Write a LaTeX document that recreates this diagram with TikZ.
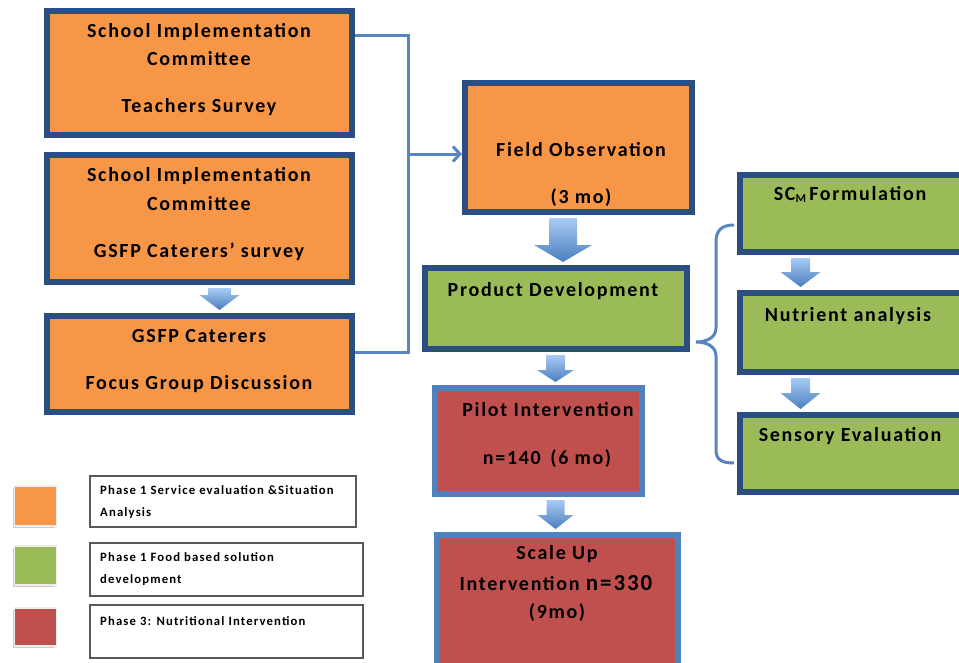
\documentclass[tikz,border=0pt]{standalone}
\usepackage{fontspec}
\setmainfont{Carlito}[LetterSpace=8.5]
\newfontfamily\legendfont{Carlito}[LetterSpace=9]
\usetikzlibrary{arrows.meta,shadows,calc}

\definecolor{phaseorange}{HTML}{F79646}
\definecolor{phasegreen}{HTML}{9BBB59}
\definecolor{phasered}{HTML}{C0504D}
\definecolor{darkframe}{HTML}{2A4E80}
\definecolor{lightframe}{HTML}{4F81BD}
\definecolor{linkblue}{HTML}{5685C1}
\definecolor{arrowtop}{HTML}{A9CBF4}
\definecolor{arrowbot}{HTML}{4A7EBE}
\definecolor{shadowtone}{HTML}{C9A48C}

% block arrow between two stacked boxes:
% #1 x position, #2 upper node, #3 lower node, #4 shaft half width,
% #5 head half width, #6 head length
\newcommand\flowarrow[6]{%
  \path[flowshade] let \p1=(#1,0), \p2=([yshift=-3pt]#2.south), \p3=([yshift=3pt]#3.north) in
    (\x1-#4,\y2) -- (\x1+#4,\y2) -- (\x1+#4,\y3+#6) -- (\x1+#5,\y3+#6)
    -- (\x1,\y3) -- (\x1-#5,\y3+#6) -- (\x1-#4,\y3+#6) -- cycle;}

\begin{document}
\begin{tikzpicture}[x=1pt,y=-1pt,
  stage/.style={draw=darkframe, line width=6pt, inner sep=0pt,
    drop shadow={shadow xshift=3pt, shadow yshift=-3pt, fill=shadowtone, opacity=0.45}},
  obox/.style={stage, fill=phaseorange},
  gbox/.style={stage, fill=phasegreen},
  rbox/.style={stage, draw=lightframe, fill=phasered},
  label/.style={anchor=mid, inner sep=0pt, yshift=-4.5pt, font=\fontsize{20}{22}\selectfont\bfseries},
  conn/.style={draw=linkblue, line width=3pt},
  flowshade/.style={top color=arrowtop, bottom color=arrowbot},
  swatch/.style={inner sep=0pt, draw=black!7, line width=1.5pt,
    drop shadow={shadow xshift=-2pt, shadow yshift=-2pt, fill=shadowtone, opacity=0.6}},
  keybox/.style={draw=black!65, line width=1.2pt, fill=white, inner sep=0pt},
  keytext/.style={anchor=mid west, inner sep=0pt, yshift=-2pt, font=\legendfont\fontsize{12.7}{14}\selectfont\bfseries}
]
\useasboundingbox (0,0) rectangle (959,662);

% connector bus on the left
\coordinate (bustop) at (408,35);
\coordinate (busjoin) at (408,154);
\coordinate (busbot) at (408,352);

% stage boxes
\node[obox, minimum width=305pt, minimum height=124pt] (b1) at (199.5,73) {};
\node[obox, minimum width=305pt, minimum height=127pt] (b2) at (199.5,218.5) {};
\node[obox, minimum width=305pt, minimum height=96pt]  (b3) at (199.5,364) {};
\node[obox, minimum width=227pt, minimum height=129pt] (fo) at (578.5,147.5) {};
\node[gbox, minimum width=262pt, minimum height=81pt]  (pd) at (556,308.5) {};
\node[rbox, minimum width=207pt, minimum height=106pt] (pi) at (538.5,441) {};
\node[rbox, minimum width=241pt, minimum height=134pt] (su) at (557.5,602) {};
\node[gbox, minimum width=227pt, minimum height=77pt]  (scm) at (853.5,213.5) {};
\node[gbox, minimum width=227pt, minimum height=79pt]  (na) at (853.5,332.5) {};
\node[gbox, minimum width=227pt, minimum height=77pt]  (se) at (853.5,453.5) {};

% connectors
\draw[conn] (b1.east |- bustop) -- (bustop) -- (busbot) -- (b3.east |- busbot);
\draw[conn, -{Straight Barb[length=7pt,width=15pt]}] (busjoin) -- (fo.west |- busjoin);
\draw[conn] ([xshift=-3pt,yshift=-11.5pt]scm.west) .. controls (722,225) and (716,230) .. (716,242)
  -- (716,328) .. controls (716,338) and (706,342) .. ([xshift=6pt,yshift=-33.5pt]pd.east)
  .. controls (706,342) and (716,346) .. (716,356)
  -- (716,450) .. controls (716,460) and (722,463) .. ([xshift=-3pt,yshift=-9.5pt]se.west);

% block arrows
\flowarrow{219.5}{b2}{b3}{11.5}{20}{15}
\flowarrow{563}{fo}{pd}{14}{29}{17}
\flowarrow{555.5}{pd}{pi}{9.5}{18.5}{12}
\flowarrow{555.5}{pi}{su}{9}{18}{14}
\flowarrow{800.5}{scm}{na}{9.5}{20}{15}
\flowarrow{800.5}{na}{se}{9.5}{20}{16}

% box texts
\node[label] (b1a) at (199,31) {School Implementation};
\node[label] (b1b) at (199,59) {Committee};
\node[label] (b1c) at (199,106) {Teachers Survey};
\node[label] (b2a) at (199,175) {School Implementation};
\node[label] (b2b) at (199,204) {Committee};
\node[label] (b2c) at (199,251) {GSFP Caterers’ survey};
\node[label] (b3a) at (199,336) {GSFP Caterers};
\node[label] (b3b) at (199,383) {Focus Group Discussion};
\node[label] (foa) at (581,150) {Field Observation};
\node[label] (fob) at (581,197) {(3 mo)};
\node[label] (pda) at (553,290) {Product Development};
\node[label] (pia) at (548,410) {Pilot Intervention};
\node[label] (pib) at (547,458) {n=140 \,(6 mo)};
\node[label] (sua) at (557,553) {Scale Up};
\node[label] (sub) at (556,584) {Intervention {\fontsize{23}{24}\selectfont n=330}};
\node[label] (suc) at (557,612) {(9mo)};
\node[label] (scma) at (850,194) {SC{\fontsize{12}{12}\selectfont\raisebox{-2pt}{M}}\,Formulation};
\node[label] (naa) at (848,315) {Nutrient analysis};
\node[label] (sea) at (850,435) {Sensory Evaluation};

% legend
\node[swatch, fill=phaseorange, minimum width=42pt, minimum height=40pt] (sw1) at (35.5,506) {};
\node[swatch, fill=phasegreen, minimum width=42pt, minimum height=39pt] (sw2) at (35.5,565.5) {};
\node[swatch, fill=phasered, minimum width=42pt, minimum height=38pt] (sw3) at (35.5,627) {};
\node[keybox, minimum width=266pt, minimum height=51pt] (lg1) at (223,501.5) {};
\node[keybox, minimum width=273pt, minimum height=53pt] (lg2) at (226.5,569.5) {};
\node[keybox, minimum width=273pt, minimum height=53pt] (lg3) at (226.5,631.5) {};
\node[keytext] (lg1a) at (100,490) {Phase 1 Service evaluation \&Situation};
\node[keytext] (lg1b) at (100,512) {Analysis};
\node[keytext] (lg2a) at (100,557) {Phase 1 Food based solution};
\node[keytext] (lg2b) at (100,579) {development};
\node[keytext] (lg3a) at (100,621) {Phase 3: Nutritional Intervention};
\end{tikzpicture}
\end{document}
